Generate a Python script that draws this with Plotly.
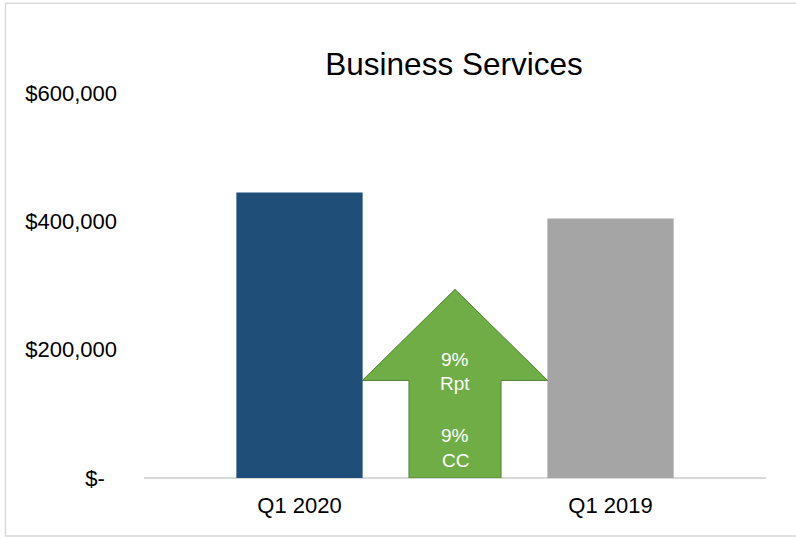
import plotly.graph_objects as go

categories = ["Q1 2020", "Q1 2019"]
values = [445000, 404500]
bar_colors = ["#1f4e79", "#a5a5a5"]

y_tickvals = [0, 200000, 400000, 600000]
y_ticktext = ["$-\u00a0\u00a0", "$200,000", "$400,000", "$600,000"]

# growth arrow (between the two bars)
arrow_tip = 294000
arrow_head_base = 152000
arrow_labels = ["9%", "Rpt", "9%", "CC"]
arrow_label_y = [184000, 146700, 66000, 27200]

x_pos = list(range(len(categories)))
mid = 0.5
shaft_hw = 0.148
head_hw = 0.298

fig = go.Figure()
fig.add_trace(go.Bar(
    x=x_pos, y=values, marker=dict(color=bar_colors, line=dict(width=0)),
    width=0.406, hoverinfo="skip", showlegend=False,
))

ax = [mid - shaft_hw, mid - shaft_hw, mid - head_hw, mid, mid + head_hw,
      mid + shaft_hw, mid + shaft_hw, mid - shaft_hw]
ay = [0, arrow_head_base, arrow_head_base, arrow_tip, arrow_head_base,
      arrow_head_base, 0, 0]
fig.add_trace(go.Scatter(
    x=ax, y=ay, mode="lines", fill="toself", fillcolor="#70ad47",
    line=dict(color="#548235", width=1), hoverinfo="skip", showlegend=False,
))

for t, yy in zip(arrow_labels, arrow_label_y):
    fig.add_annotation(x=mid, y=yy, xref="x", yref="y", text=t, showarrow=False,
                       font=dict(family="Liberation Sans, Arial", size=19, color="white"))

L, R, T, B = 144, 30, 92.5, 59.7
W, H = 796, 538
pw, ph = W - L - R, H - T - B

fig.add_shape(type="rect", xref="paper", yref="paper",
              x0=(5.5 - L) / pw, x1=(800 - L) / pw,
              y0=(H - B - 536.5) / ph, y1=(H - B - 2.5) / ph,
              line=dict(color="#d9d9d9", width=1.5), fillcolor="rgba(0,0,0,0)", layer="below")

fig.update_layout(
    width=W, height=H,
    margin=dict(l=L, r=R, t=T, b=B),
    paper_bgcolor="white", plot_bgcolor="white",
    font=dict(family="Liberation Sans, Arial", size=22, color="black"),
    title=dict(text="Business Services", x=(454 - L) / pw, xref="paper", xanchor="center",
               y=1 - 63.5 / H, yanchor="middle", font=dict(size=31.5)),
    xaxis=dict(range=[-0.5, 1.5], tickvals=x_pos, ticktext=categories,
               showgrid=False, zeroline=False, showline=False, ticks="",
               ticklabelstandoff=12),
    yaxis=dict(range=[0, 600000], tickvals=y_tickvals, ticktext=y_ticktext,
               showgrid=False, zeroline=True, zerolinecolor="#d9d9d9", zerolinewidth=1.5,
               showline=False, ticks="", ticklabelstandoff=26),
)

fig.write_html("out.html", config={"displayModeBar": False},
               post_script="document.body.style.margin='0';document.body.style.overflow='hidden';")
